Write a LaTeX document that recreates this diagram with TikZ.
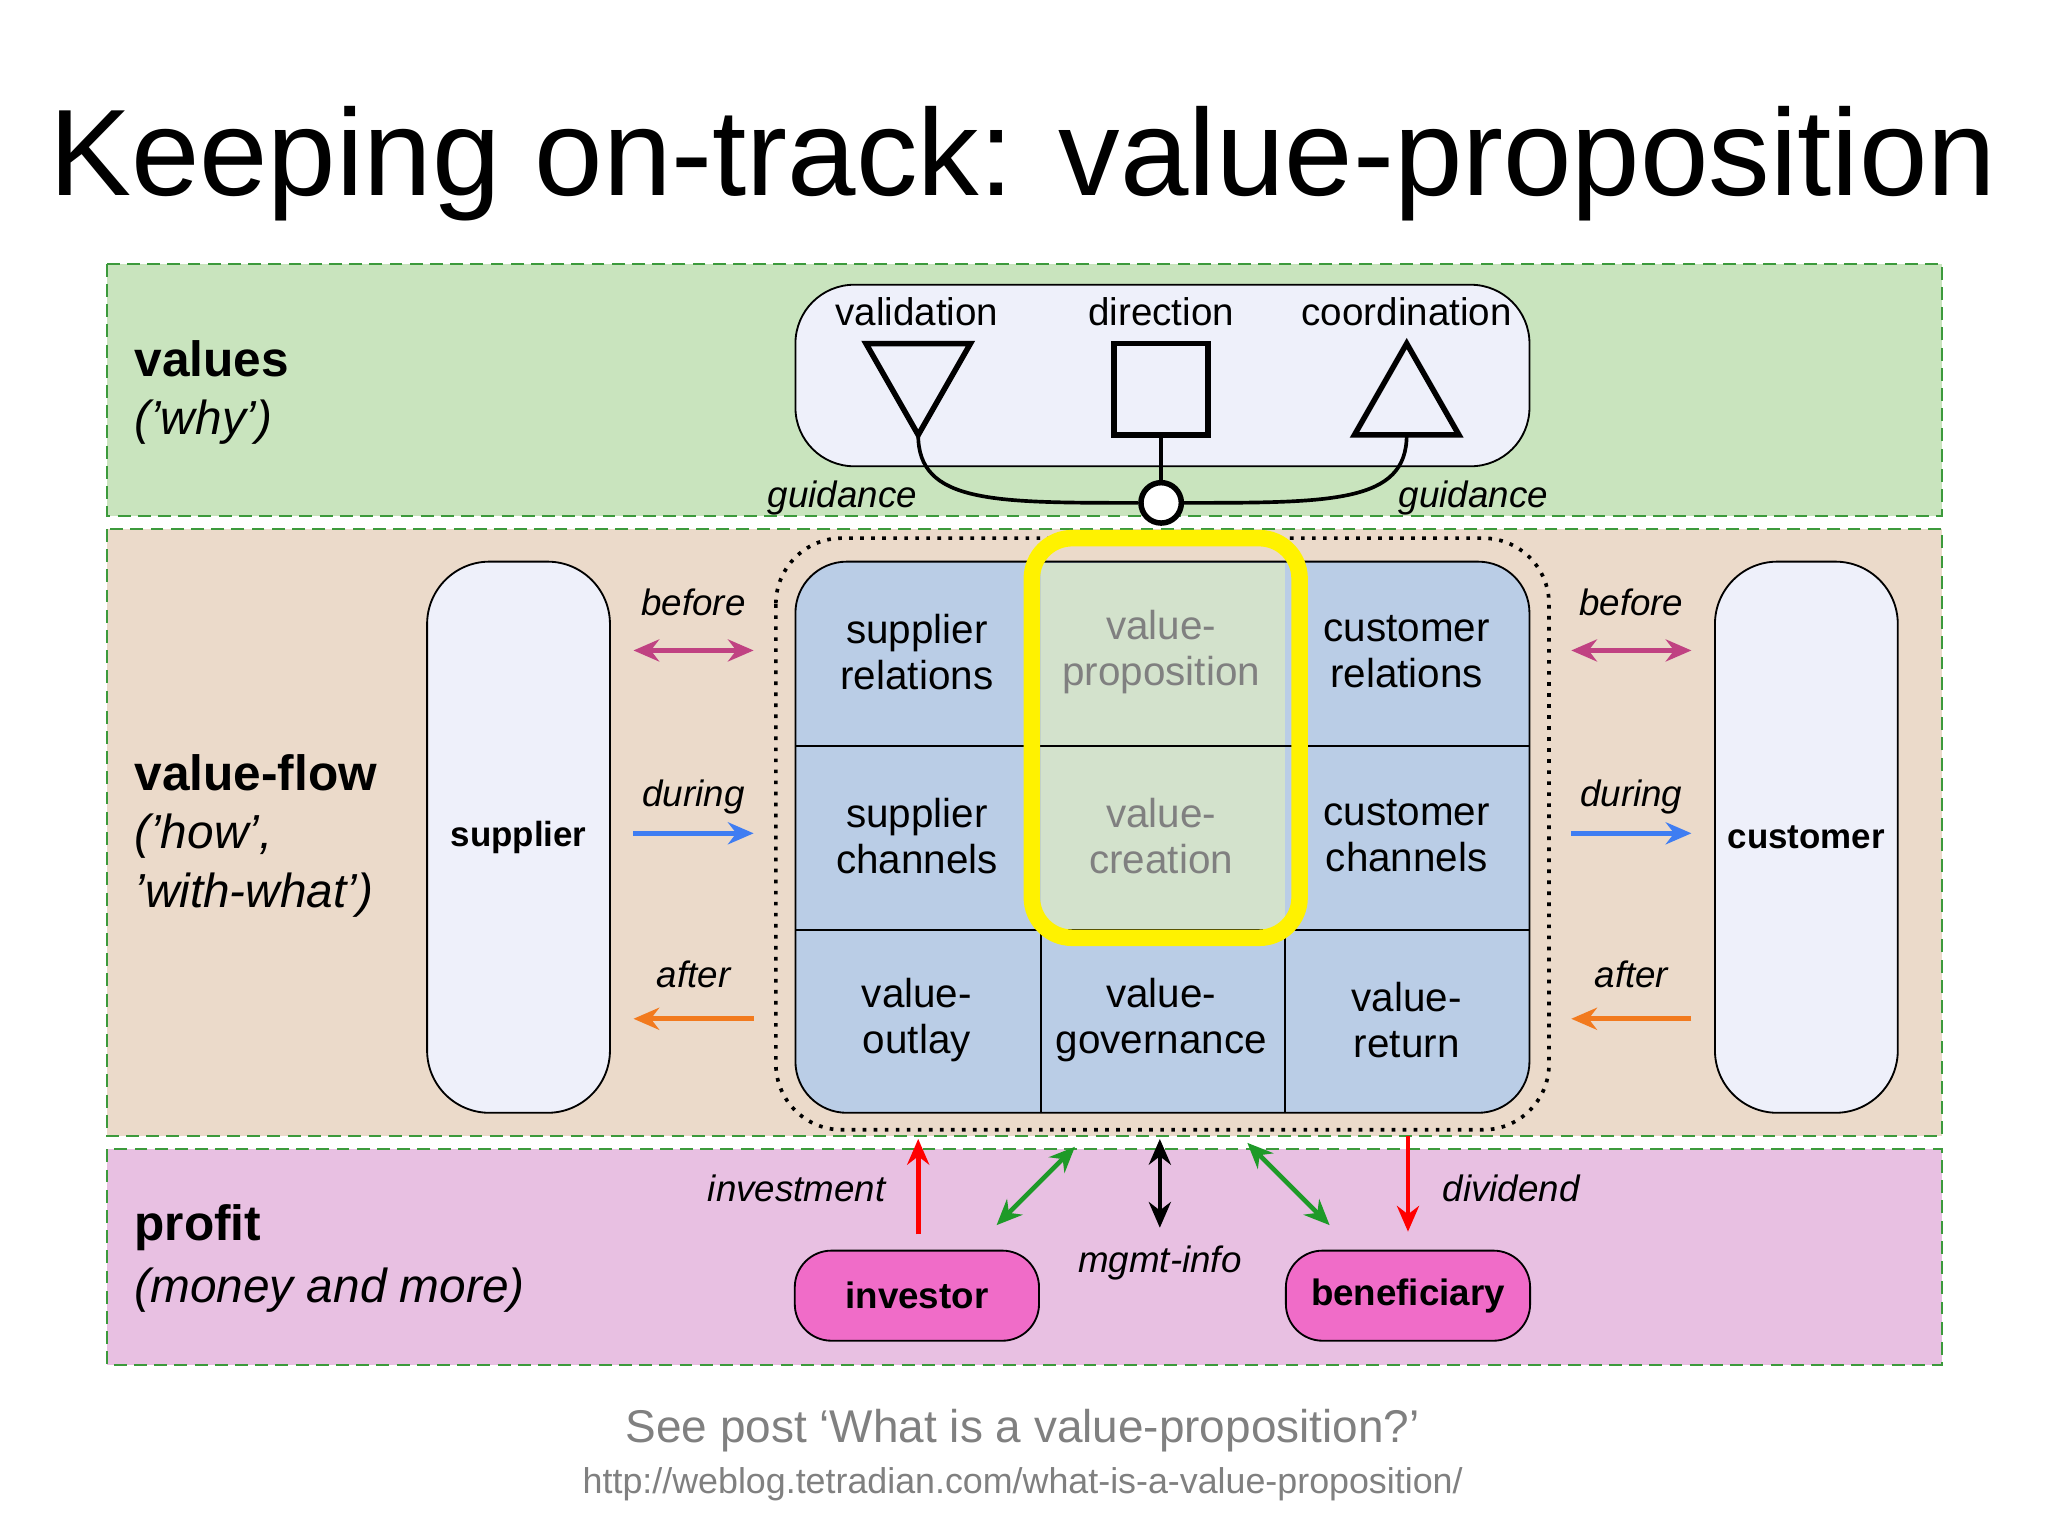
\documentclass[tikz,border=0pt]{standalone}
\usepackage{fontspec}
\setmainfont{Liberation Sans}
\usepackage{tikz}
\usetikzlibrary{arrows.meta}

\definecolor{bandgreen}{HTML}{C9E4BE}
\definecolor{bandtan}{HTML}{EBDACA}
\definecolor{bandpink}{HTML}{E8C0E2}
\definecolor{dashgreen}{HTML}{3C9A3C}
\definecolor{paleblue}{HTML}{EEF0FA}
\definecolor{cellblue}{HTML}{BACDE6}
\definecolor{cellgreen}{HTML}{D3E2CC}
\definecolor{arrmag}{HTML}{C04282}
\definecolor{arrblue}{HTML}{3F7DF2}
\definecolor{arrorange}{HTML}{F27A1E}
\definecolor{arrgreen}{HTML}{1E9A28}
\definecolor{pinknode}{HTML}{F06CC8}

\tikzset{
    band/.style={draw=dashgreen, dash pattern=on 7pt off 4pt, line width=1.2pt},
    lbl/.style={font=\fontsize{21}{24}\selectfont},
    ital/.style={font=\fontsize{20}{24}\selectfont\itshape},
    big/.style={font=\fontsize{27}{32}\selectfont\bfseries, anchor=west},
    bigit/.style={font=\fontsize{26}{32}\selectfont\itshape, anchor=west, align=left},
    cell/.style={font=\fontsize{22}{25}\selectfont, align=center},
    actor/.style={draw, line width=1pt, fill=pinknode, rounded corners=20pt, minimum width=187*0.025cm, minimum height=69*0.025cm, font=\fontsize{20}{25}\selectfont\bfseries},
    arr/.style={line width=2.5pt, -{Stealth[length=14pt,width=12pt]}},
    darr/.style={line width=2.5pt, {Stealth[length=14pt,width=12pt]}-{Stealth[length=14pt,width=12pt]}},
}

\begin{document}
\begin{tikzpicture}[x=0.025cm, y=-0.025cm]
    \useasboundingbox[fill=white] (0,0) rectangle (1568,1176);
    \node[font=\fontsize{67}{70}\selectfont] (title) at (783,125) {Keeping on-track: value-proposition};

    % bands
    \filldraw[band, fill=bandgreen] (82,202) rectangle (1487,395);
    \filldraw[band, fill=bandtan] (82,405) rectangle (1487,870);
    \filldraw[band, fill=bandpink] (82,880) rectangle (1487,1045);
    \node[big] (values) at (98,275) {values};
    \node[bigit] (why) at (98,323) {('why')};
    \node[big] (vflow) at (98,592) {value-flow};
    \node[bigit, anchor=north west] (how) at (98,618) {('how',\\'with-what')};
    \node[big] (profit) at (98,940) {profit};
    \node[bigit] (money) at (98,988) {(money and more)};

    % values box
    \filldraw[fill=paleblue, draw=black, line width=1pt, rounded corners=32pt] (609,218) rectangle (1171,357);
    \node[lbl] (valid) at (702,239) {validation};
    \node[lbl] (direc) at (889,239) {direction};
    \node[lbl] (coord) at (1077,239) {coordination};
    \draw[line width=3pt] (663,263) -- (743,263) -- (703,333) -- cycle;
    \draw[line width=3pt] (853,263) rectangle (925,333);
    \draw[line width=3pt] (1037,333) -- (1117,333) -- (1077,263) -- cycle;
    \coordinate (vtip) at (703,333);
    \coordinate (sqbot) at (889,333);
    \coordinate (ctip) at (1077,333);
    \node[circle, draw, line width=3pt, fill=white, minimum size=22pt, inner sep=0] (hub) at (889,385) {};
    \draw[line width=2pt] (vtip) .. controls (703,385) and (760,385) .. (hub.west);
    \draw[line width=2pt] (ctip) .. controls (1077,385) and (1020,385) .. (hub.east);
    \draw[line width=2pt] (sqbot) -- (hub.north);
    \node[ital] (guidl) at (645,381) {guidance};
    \node[ital] (guidr) at (1128,381) {guidance};

    % supplier / customer
    \filldraw[fill=paleblue, draw=black, line width=1pt, rounded corners=34pt] (327,430) rectangle (467,852);
    \node[font=\fontsize{19}{25}\selectfont\bfseries] (supplier) at (397,641) {supplier};
    \filldraw[fill=paleblue, draw=black, line width=1pt, rounded corners=34pt] (1313,430) rectangle (1453,852);
    \node[font=\fontsize{19}{25}\selectfont\bfseries] (customer) at (1383,641) {customer};

    % grid
    \draw[line width=2pt, dash pattern=on 2pt off 4pt, rounded corners=36pt] (594,412) rectangle (1186,865);
    \filldraw[fill=cellblue, draw=black, line width=1pt, rounded corners=28pt] (609,430) rectangle (1171,852);
    \fill[cellgreen] (797,431) rectangle (984,712);
    \draw[line width=1pt] (609,571) -- (1171,571) (609,712) -- (1171,712) (797,712) -- (797,852) (984,712) -- (984,852);
    \node[cell] (suprel) at (702,499) {supplier\\relations};
    \node[cell, text=gray] (vprop) at (889,499) {value-\\proposition};
    \node[cell] (cusrel) at (1077,499) {customer\\relations};
    \node[cell] (supch) at (702,640) {supplier\\channels};
    \node[cell, text=gray] (vcre) at (889,640) {value-\\creation};
    \node[cell] (cusch) at (1077,640) {customer\\channels};
    \node[cell] (vout) at (702,781) {value-\\outlay};
    \node[cell] (vgov) at (889,781) {value-\\governance};
    \node[cell] (vret) at (1077,781) {value-\\return};
    \draw[yellow, line width=9pt, rounded corners=22pt] (790,412) rectangle (995,718);

    % flow arrows
    \foreach \x/\s in {531/l, 1249/r} {
        \node[ital] (before\s) at (\x,461) {before};
        \node[ital] (during\s) at (\x,610) {during};
        \node[ital] (after\s) at (\x,746) {after};
        \draw[darr, arrmag] (\x-46,498) -- (\x+46,498);
        \draw[arr, arrblue] (\x-46,638) -- (\x+46,638);
        \draw[arr, arrorange] (\x+46,780) -- (\x-46,780);
    }

    % profit
    \node[actor] (investor) at (702,992) {investor};
    \node[actor] (benef) at (1078,992) {beneficiary};
    \coordinate (invtop) at (703,945);
    \coordinate (invin) at (703,872);
    \draw[arr, red] (invtop) -- (invin);
    \draw[darr, arrgreen] (763,938) -- (823,878);
    \draw[darr, black] (888,872) -- (888,940);
    \draw[darr, arrgreen] (955,875) -- (1018,938);
    \coordinate (divout) at (1078,870);
    \coordinate (divbot) at (1078,943);
    \draw[arr, red] (divout) -- (divbot);
    \node[ital] (invest) at (610,910) {investment};
    \node[ital] (mgmt) at (888,967) {mgmt-info};
    \node[ital] (divid) at (1157,910) {dividend};

    % footer
    \node[text=gray, font=\fontsize{25}{28}\selectfont] (post) at (783,1095) {See post ‘What is a value-proposition?’};
    \node[text=gray, font=\fontsize{19.5}{22}\selectfont] (url) at (783,1136) {http://weblog.tetradian.com/what-is-a-value-proposition/};
\end{tikzpicture}
\end{document}
